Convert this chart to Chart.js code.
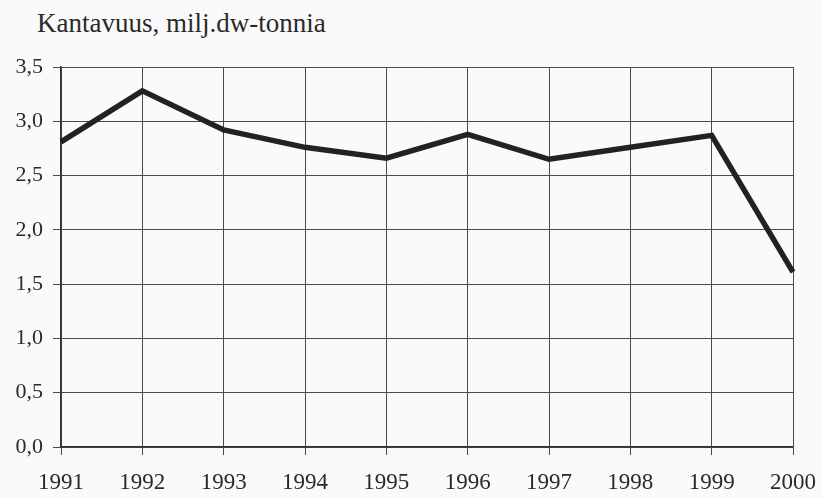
<!DOCTYPE html>
<html>
<head>
<meta charset="utf-8">
<script src="https://cdn.jsdelivr.net/npm/chart.js@4"></script>
<style>
  html, body { margin: 0; padding: 0; background: #fafafa; }
  #wrap { position: relative; width: 823px; height: 498px; }
  #title {
    position: absolute; left: 37px; top: 8px;
    font-family: "Liberation Serif", serif;
    font-size: 27px; color: #2a2a2a; white-space: nowrap;
  }
  canvas { position: absolute; left: 0; top: 0; }
</style>
</head>
<body>
<div id="wrap">
  <div id="title">Kantavuus, milj.dw-tonnia</div>
  <canvas id="chart" width="823" height="498"></canvas>
</div>
<script>
// --- DATA ---
const years = ['1991', '1992', '1993', '1994', '1995', '1996', '1997', '1998', '1999', '2000'];
const capacity = [2.81, 3.28, 2.92, 2.76, 2.66, 2.88, 2.65, 2.76, 2.87, 1.61];
const yTicks = [0, 0.5, 1, 1.5, 2, 2.5, 3, 3.5];

const gridColor = '#4a4a4a';
const textColor = '#2a2a2a';
const serif = 'Liberation Serif';

const ctx = document.getElementById('chart').getContext('2d');

new Chart(ctx, {
  type: 'line',
  data: {
    labels: years,
    datasets: [{
      data: capacity,
      borderColor: '#222',
      borderWidth: 5.5,
      pointRadius: 0,
      tension: 0,
      fill: false
    }]
  },
  options: {
    responsive: false,
    animation: false,
    layout: { padding: { left: 0, right: 30, top: 67, bottom: 0 } },
    plugins: {
      legend: { display: false },
      tooltip: { enabled: false }
    },
    scales: {
      x: {
        offset: false,
        afterFit: axis => { axis.height = 51; axis.paddingLeft = 0; axis.paddingRight = 0; },
        grid: { color: gridColor, lineWidth: 1, tickLength: 8 },
        border: { color: '#333', width: 1.5 },
        ticks: {
          color: textColor, padding: 14, maxRotation: 0, autoSkip: false,
          font: { family: serif, size: 23 }
        }
      },
      y: {
        min: 0, max: 3.5,
        afterBuildTicks: axis => { axis.ticks = yTicks.map(v => ({ value: v })); },
        afterFit: axis => { axis.width = 61; },
        grid: { color: gridColor, lineWidth: 1, tickLength: 8 },
        border: { color: '#333', width: 1.5 },
        ticks: {
          color: textColor, padding: 10,
          font: { family: serif, size: 22 },
          callback: v => v.toFixed(1).replace('.', ',')
        }
      }
    }
  }
});
</script>
</body>
</html>
